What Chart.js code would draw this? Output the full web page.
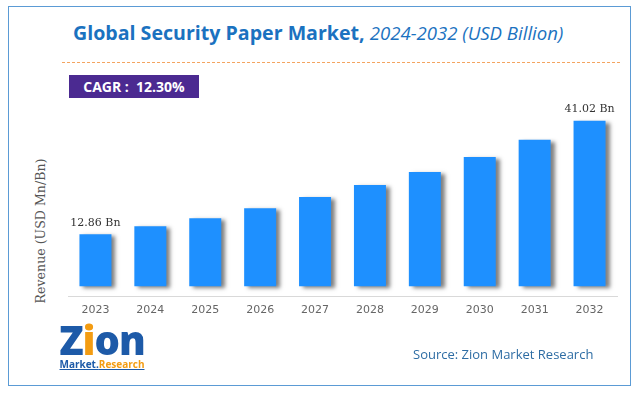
<!DOCTYPE html>
<html>
<head>
<meta charset="utf-8">
<script src="https://cdn.jsdelivr.net/npm/chart.js@4.4.1/dist/chart.umd.min.js"></script>
<style>
  body { margin: 0; background: #fff; }
  #wrap { position: relative; width: 639px; height: 394px; overflow: hidden; }
  #frame { position: absolute; left: 8px; top: 6px; width: 621px; height: 378px; border: 1.5px solid #5b9bd5; }
  #title { position: absolute; left: 73px; top: 19px; font-family: "Open Sans", sans-serif; font-size: 19.6px; color: #1b72c0; white-space: nowrap; }
  #title b { font-weight: 700; }
  #title i { font-weight: 400; font-size: 18.6px; }
  #dash { position: absolute; left: 62px; top: 62px; width: 558px; border-top: 1.5px dashed #f4a460; }
  #cagr { position: absolute; left: 69px; top: 75px; width: 130px; height: 23px; background: #4b2a91; color: #fff;
          font-family: "Open Sans", sans-serif; font-weight: 700; font-size: 14px; line-height: 23px; text-align: center; white-space: pre; }
  #ytitle { position: absolute; left: 40px; top: 231px; transform: translate(-50%, -50%) rotate(-90deg);
            font-family: "DejaVu Serif", serif; font-size: 12.6px; color: #555; white-space: nowrap; }
  #source { position: absolute; left: 413px; top: 345px; font-family: "Open Sans", sans-serif; font-size: 13px; color: #2e6da4; white-space: nowrap; }
  #logo { position: absolute; left: 58px; top: 322px; width: 88px; text-align: center; font-family: "Open Sans", sans-serif; }
  #logo .z { font-size: 40px; font-weight: 800; color: #1d5aa8; line-height: 36px; letter-spacing: -1px; }
  #logo .z span { color: #f39c12; }
  #logo .m { font-size: 10px; font-weight: 700; color: #1d5aa8; line-height: 12px; text-decoration: underline; text-decoration-color: #1d5aa8; }
  #logo .m span { color: #f39c12; }
  canvas { position: absolute; left: 0; top: 0; }
</style>
</head>
<body>
<div id="wrap">
  <div id="frame"></div>
  <div id="title"><b>Global Security Paper Market,</b> <i>2024-2032 (USD Billion)</i></div>
  <div id="dash"></div>
  <div id="cagr">CAGR :  12.30%</div>
  <div id="ytitle">Revenue (USD Mn/Bn)</div>
  <canvas id="chart" width="639" height="394"></canvas>
  <div id="logo"><div class="z">Z<span>i</span>on</div><div class="m">Market.<span>Research</span></div></div>
  <div id="source">Source: Zion Market Research</div>
</div>
<script>
var years = ["2023", "2024", "2025", "2026", "2027", "2028", "2029", "2030", "2031", "2032"];
var revenue = [12.86, 14.84, 16.83, 19.31, 22.11, 25.08, 28.30, 32.02, 36.31, 41.02];
var labelled = { 0: "12.86 Bn", 9: "41.02 Bn" };

var barShadow = {
  id: "barShadow",
  beforeDatasetsDraw: function (chart) {
    var ctx = chart.ctx;
    ctx.save();
    ctx.shadowColor = "rgba(0,0,0,0.5)";
    ctx.shadowOffsetX = 4;
    ctx.shadowOffsetY = 2;
    ctx.shadowBlur = 4;
  },
  afterDatasetsDraw: function (chart) {
    chart.ctx.restore();
  }
};

var endLabels = {
  id: "endLabels",
  afterDatasetsDraw: function (chart) {
    var ctx = chart.ctx;
    var meta = chart.getDatasetMeta(0);
    ctx.save();
    ctx.font = "11px 'DejaVu Serif', serif";
    ctx.fillStyle = "#333";
    ctx.textAlign = "center";
    ctx.textBaseline = "bottom";
    for (var k in labelled) {
      var bar = meta.data[k];
      ctx.fillText(labelled[k], bar.x, bar.y - 6);
    }
    ctx.restore();
  }
};

var ctx = document.getElementById("chart").getContext("2d");
new Chart(ctx, {
  type: "bar",
  data: {
    labels: years,
    datasets: [{
      data: revenue,
      backgroundColor: "#1e90ff",
      borderWidth: 0,
      barPercentage: 0.583,
      categoryPercentage: 1
    }]
  },
  options: {
    responsive: false,
    animation: false,
    layout: { padding: { left: 68, right: 22, top: 100, bottom: 68 } },
    plugins: { legend: { display: false }, tooltip: { enabled: false } },
    scales: {
      x: {
        grid: { display: false, drawTicks: false },
        border: { color: "#d9d9d9", width: 1 },
        ticks: { color: "#666", font: { family: "'DejaVu Sans', sans-serif", size: 11 }, padding: 8 },
        afterFit: function (s) { s.height = 30; }
      },
      y: { display: false, min: -2.43, max: 46.16 }
    }
  },
  plugins: [barShadow, endLabels]
});
</script>
</body>
</html>
